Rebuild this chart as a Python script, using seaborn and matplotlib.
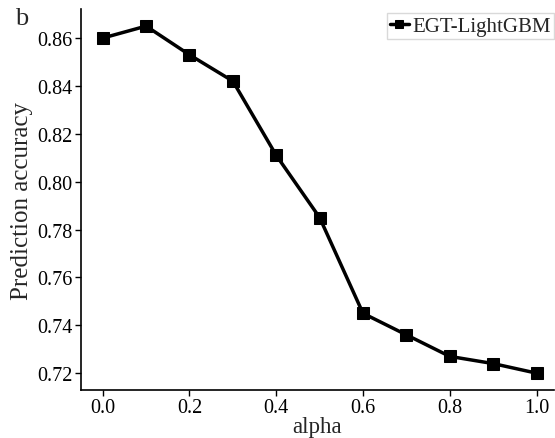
import pandas as pd
import matplotlib
matplotlib.use("Agg")
import matplotlib.pyplot as plt
import seaborn as sns

# data
alpha = [0.0, 0.1, 0.2, 0.3, 0.4, 0.5, 0.6, 0.7, 0.8, 0.9, 1.0]
accuracy = [0.860, 0.865, 0.853, 0.842, 0.811, 0.785, 0.745, 0.736, 0.727, 0.724, 0.720]
series_name = "EGT-LightGBM"
x_ticks = [0.0, 0.2, 0.4, 0.6, 0.8, 1.0]
y_ticks = [0.72, 0.74, 0.76, 0.78, 0.80, 0.82, 0.84, 0.86]

df = pd.DataFrame({"alpha": alpha, "accuracy": accuracy, "model": series_name})

sns.set_style("ticks")
plt.rcParams["font.family"] = ["Liberation Serif", "DejaVu Serif"]

fig = plt.figure(figsize=(5.55, 4.39), dpi=100)
ax = fig.add_axes([0.146, 0.109, 0.852, 0.868])

sns.lineplot(data=df, x="alpha", y="accuracy", hue="model", palette=["black"],
             marker="s", markersize=9, linewidth=2.5, markeredgecolor="black", ax=ax)

ax.set_xlim(-0.05, 1.04)
ax.set_ylim(0.7129, 0.8721)
ax.set_xticks(x_ticks)
ax.set_xticklabels([f"{t:.1f}" for t in x_ticks])
ax.set_yticks(y_ticks)
ax.set_yticklabels([f"{t:.2f}" for t in y_ticks])
ax.tick_params(labelsize=14.5, colors="black", length=4, width=1, pad=2)
ax.set_xlabel("alpha", fontsize=16.5, labelpad=-1)
ax.set_ylabel("Prediction accuracy", fontsize=18, labelpad=3)
sns.despine(ax=ax)
for s in ["left", "bottom"]:
    ax.spines[s].set_color("black")
    ax.spines[s].set_linewidth(1.2)

leg = ax.legend(loc="upper right", bbox_to_anchor=(1.01, 1.0), fontsize=15,
                frameon=True, fancybox=False, handlelength=0.9, handletextpad=0.2,
                borderpad=0.15, borderaxespad=0.2, markerscale=0.7)
leg.get_frame().set_edgecolor("#d0d0d0")
leg.get_frame().set_linewidth(1.0)

fig.text(0.027, 0.942, "b", fontsize=19)

fig.savefig("out.png", dpi=100)
